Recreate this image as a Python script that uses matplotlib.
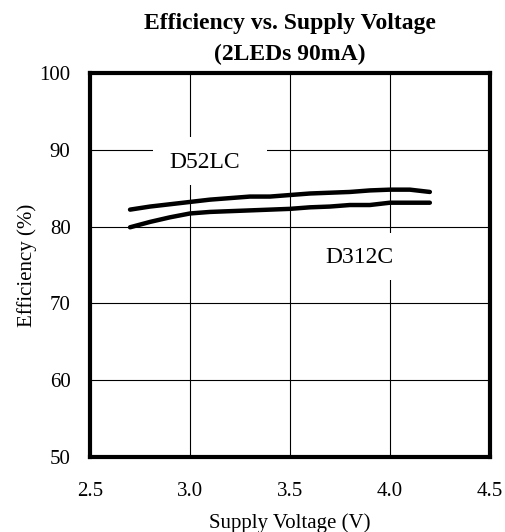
import matplotlib.pyplot as plt
from matplotlib.patches import Rectangle

plt.rcParams['font.family'] = ['Liberation Serif', 'DejaVu Serif']

# supply voltage sweep (V)
volts = [2.7, 2.8, 2.9, 3.0, 3.1, 3.2, 3.3, 3.4, 3.5, 3.6, 3.7, 3.8, 3.9, 4.0, 4.1, 4.2]
# efficiency (%) per part
eff_d52lc = [82.2, 82.6, 82.9, 83.2, 83.5, 83.7, 83.9, 83.9, 84.1, 84.3, 84.4, 84.5, 84.7, 84.8, 84.8, 84.5]
eff_d312c = [79.9, 80.6, 81.2, 81.7, 81.9, 82.0, 82.1, 82.2, 82.3, 82.5, 82.6, 82.8, 82.8, 83.1, 83.1, 83.1]

xticks = [2.5, 3.0, 3.5, 4.0, 4.5]
yticks = [50, 60, 70, 80, 90, 100]

fig = plt.figure(figsize=(5.06, 5.32), dpi=100)
ax = fig.add_axes([0.178, 0.141, 0.79, 0.722])

ax.plot(volts, eff_d52lc, color='black', lw=3.2, solid_capstyle='round', zorder=4)
ax.plot(volts, eff_d312c, color='black', lw=3.2, solid_capstyle='round', zorder=4)

ax.set_xlim(2.5, 4.5)
ax.set_ylim(50, 100)
ax.set_xticks(xticks)
ax.set_xticklabels(['%.1f' % v for v in xticks])
ax.set_yticks(yticks)
ax.grid(True, color='black', lw=0.8)
ax.set_axisbelow(True)
ax.tick_params(length=0, labelsize=15)
ax.tick_params(axis='x', pad=18)
ax.tick_params(axis='y', pad=14)
for s in ax.spines.values():
    s.set_linewidth(3)
    s.set_zorder(5)

# white patches behind the curve names break the grid lines
ax.add_patch(Rectangle((2.815, 85.4), 0.57, 6.3, fc='white', ec='none', zorder=2))
ax.add_patch(Rectangle((3.58, 73.0), 0.545, 6.2, fc='white', ec='none', zorder=2))
ax.text(3.075, 88.3, 'D52LC', fontsize=17, ha='center', va='center', zorder=3)
ax.text(3.85, 76.0, 'D312C', fontsize=17, ha='center', va='center', zorder=3)

ax.set_xlabel('Supply Voltage (V)', fontsize=15, labelpad=9)
ax.set_ylabel('Efficiency (%)', fontsize=15, labelpad=2)
ax.set_title('Efficiency vs. Supply Voltage\n(2LEDs 90mA)', fontsize=17,
             fontweight='bold', linespacing=1.65, pad=9)

fig.savefig('out.png', dpi=100)
